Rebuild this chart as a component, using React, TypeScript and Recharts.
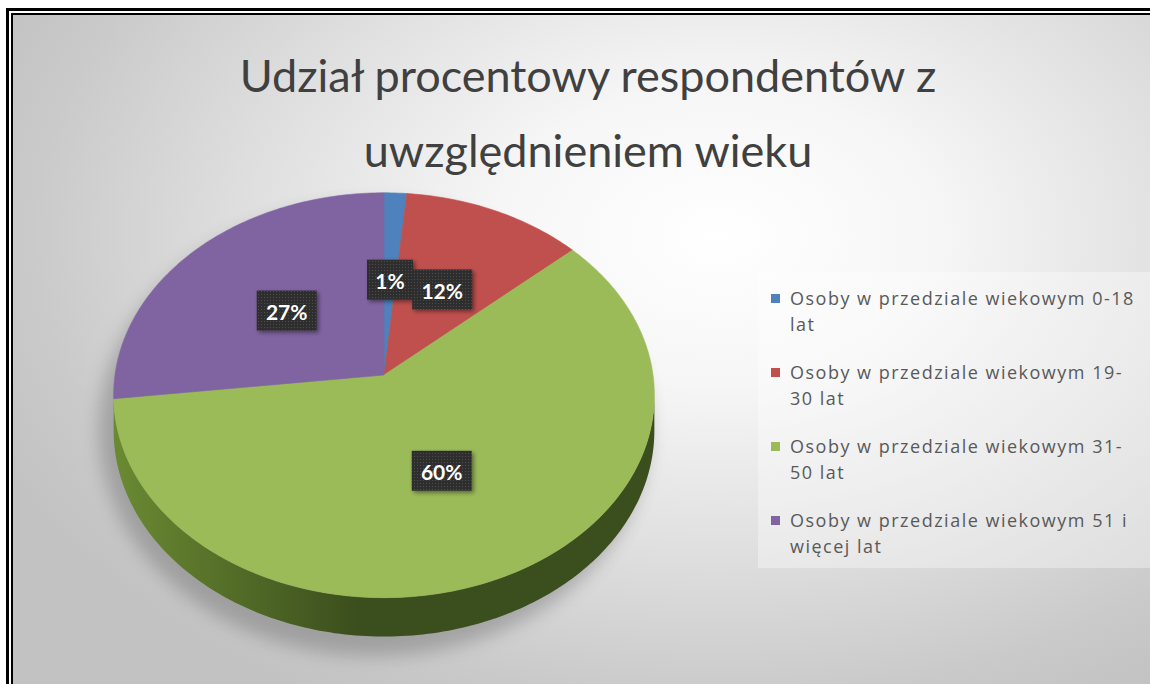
import React from 'react';
import { PieChart, Pie, Cell, Legend } from 'recharts';

const titleLines = ['Udział procentowy respondentów z', 'uwzględnieniem wieku'];

const categories = [
  'Osoby w przedziale wiekowym 0-18 lat',
  'Osoby w przedziale wiekowym 19-30 lat',
  'Osoby w przedziale wiekowym 31-50 lat',
  'Osoby w przedziale wiekowym 51 i więcej lat',
];
const shares = [1.5, 12, 60, 27];

const topColors = ['#4F81BD', '#C0504D', '#9BBB59', '#8064A2'];
const sideColors = [
  ['#3f6a9c', '#2a4870'],
  ['#a0423f', '#6c2926'],
  ['#6a8a32', '#3b4e1d'],
  ['#6a5289', '#45375e'],
];

const data = categories.map((name, i) => ({ name, value: shares[i] }));

// fake 3d: flatten + a bit of perspective, side wall drawn under the front edge
const TILT = 0.745;
const PERSP = 0.1;
const DEPTH = 35;
const VIS_LO = 180 + (Math.asin(PERSP) * 180) / Math.PI;
const VIS_HI = 360 - (Math.asin(PERSP) * 180) / Math.PI;

function project(cx: number, cy: number, r: number, deg: number, k = 1) {
  const t = (deg * Math.PI) / 180;
  const X = Math.cos(t) * k;
  const Z = -Math.sin(t) * k;
  const w = 1 - PERSP * Z;
  return { x: cx + (r * X) / w, y: cy + (r * TILT * Z) / w, w };
}

function arcPoints(cx: number, cy: number, r: number, a0: number, a1: number) {
  const n = Math.max(2, Math.ceil(Math.abs(a1 - a0)));
  const pts = [];
  for (let i = 0; i <= n; i++) pts.push(project(cx, cy, r, a0 + ((a1 - a0) * i) / n));
  return pts;
}

const Slice3D = (props: any) => {
  const { cx, cy, outerRadius, startAngle, endAngle } = props;
  const name = props.payload?.name ?? props.name;
  const idx = Math.max(0, categories.indexOf(name));
  const lo = Math.min(startAngle, endAngle);
  const hi = Math.max(startAngle, endAngle);

  const top = arcPoints(cx, cy, outerRadius, startAngle, endAngle);
  const topPath = `M${cx},${cy} ` + top.map(p => `L${p.x},${p.y}`).join(' ') + ' Z';

  const sides: string[] = [];
  for (let k = -1; k <= 1; k++) {
    const a = Math.max(lo, VIS_LO + 360 * k);
    const b = Math.min(hi, VIS_HI + 360 * k);
    if (b > a) {
      const edge = arcPoints(cx, cy, outerRadius, a, b);
      const d =
        edge.map((p, i) => `${i ? 'L' : 'M'}${p.x},${p.y}`).join(' ') +
        ' ' +
        edge
          .slice()
          .reverse()
          .map(p => `L${p.x},${p.y + DEPTH / p.w}`)
          .join(' ') +
        ' Z';
      sides.push(d);
    }
  }

  const gid = `side-grad-${idx}`;
  return (
    <g>
      <defs>
        <linearGradient id={gid} gradientUnits="userSpaceOnUse" x1={cx - outerRadius} y1={0} x2={cx + outerRadius} y2={0}>
          <stop offset="0%" stopColor={sideColors[idx][0]} />
          <stop offset="45%" stopColor={sideColors[idx][1]} />
          <stop offset="100%" stopColor={sideColors[idx][1]} />
        </linearGradient>
      </defs>
      {sides.map((d, i) => (
        <path key={i} d={d} fill={`url(#${gid})`} stroke="none" />
      ))}
      <path d={topPath} fill={topColors[idx]} stroke={topColors[idx]} strokeWidth={0.6} />
    </g>
  );
};

const renderLabel = (props: any) => {
  const { cx, cy, midAngle, outerRadius, percent } = props;
  const p = project(cx, cy, outerRadius, midAngle, 0.5);
  const text = `${Math.round(percent * 100)}%`;
  const w = 18 + text.length * 14;
  const h = 40;
  return (
    <g>
      <rect x={p.x - w / 2} y={p.y - h / 2} width={w} height={h} fill="url(#labelDots)" filter="url(#labelShadow)" />
      <text
        x={p.x}
        y={p.y + 1}
        textAnchor="middle"
        dominantBaseline="central"
        fill="#ffffff"
        fontFamily="Lato, 'Open Sans', sans-serif"
        fontWeight={700}
        fontSize={21}
      >
        {text}
      </text>
    </g>
  );
};

// split legend names into lines the way Excel wrapped them (break on spaces or after a hyphen)
function wrap(text: string, maxChars: number) {
  const tokens = text.match(/[^\s-]+-?|\s+/g) || [];
  const lines: string[] = [];
  let cur = '';
  for (const tok of tokens) {
    if ((cur + tok).trimEnd().length > maxChars && cur.trim()) {
      lines.push(cur.trim());
      cur = tok.trimStart();
    } else cur += tok;
  }
  if (cur.trim()) lines.push(cur.trim());
  return lines;
}

const renderLegend = (props: any) => {
  const payload = props.payload && props.payload.length
    ? props.payload
    : categories.map((c, i) => ({ value: c, color: topColors[i] }));
  return (
    <div
      style={{
        position: 'relative',
        width: 392,
        height: 296,
        background: 'rgba(255,255,255,0.35)',
        fontFamily: "'Open Sans', sans-serif",
        fontSize: 18,
        letterSpacing: 1.5,
        color: '#595959',
      }}
    >
      {payload.map((entry: any, i: number) => (
        <div key={i} style={{ position: 'absolute', left: 0, top: 13 + i * 74 }}>
          <div
            style={{
              position: 'absolute',
              left: 13,
              top: 9,
              width: 9,
              height: 9,
              background: entry.color,
            }}
          />
          {wrap(entry.value, 32).map((line, j) => (
            <div key={j} style={{ marginLeft: 32, height: 26, lineHeight: '26px', whiteSpace: 'nowrap' }}>
              {line}
            </div>
          ))}
        </div>
      ))}
    </div>
  );
};

export default function App() {
  return (
    <div style={{ position: 'absolute', left: 0, top: 0, width: 1150, height: 684, overflow: 'hidden', background: '#fff' }}>
      {/* double frame + grey backdrop */}
      <div style={{ position: 'absolute', left: 6, top: 8, width: 1200, height: 720, background: '#000' }} />
      <div style={{ position: 'absolute', left: 9, top: 11, width: 1200, height: 720, background: '#fff' }} />
      <div style={{ position: 'absolute', left: 11, top: 13, width: 1200, height: 720, background: '#000' }} />
      <div
        style={{
          position: 'absolute',
          left: 13,
          top: 15,
          width: 1137,
          height: 669,
          background:
            'radial-gradient(ellipse 70% 80% at 62% 33%, #ffffff 0%, #f6f6f6 28%, #e0e0e0 58%, #cacaca 86%, #c2c2c2 100%)',
        }}
      />
      <svg width={1150} height={684} style={{ position: 'absolute', left: 0, top: 0 }}>
        <defs>
          <pattern id="labelDots" width={3} height={3} patternUnits="userSpaceOnUse">
            <rect width={3} height={3} fill="#2f2f2f" />
            <rect width={1} height={1} fill="#4d4d4d" />
          </pattern>
          <filter id="labelShadow" x="-30%" y="-30%" width="160%" height="160%">
            <feDropShadow dx={2} dy={2} stdDeviation={2} floodColor="#000" floodOpacity={0.45} />
          </filter>
          <filter id="pieShadow" x="-20%" y="-20%" width="140%" height="140%">
            <feGaussianBlur stdDeviation={9} />
          </filter>
        </defs>
        <ellipse cx={374} cy={430} rx={275} ry={226} fill="#6e6e6e" opacity={0.45} filter="url(#pieShadow)" />
        {titleLines.map((t, i) => (
          <text
            key={i}
            x={588}
            y={92 + i * 75}
            textAnchor="middle"
            fontFamily="Lato, 'Open Sans', sans-serif"
            fontSize={45}
            fill="#404040"
          >
            {t}
          </text>
        ))}
      </svg>
      <div style={{ position: 'absolute', left: 0, top: 0 }}>
        <PieChart width={1150} height={684} margin={{ top: 0, right: 0, bottom: 0, left: 0 }}>
          <Pie
            data={data}
            dataKey="value"
            nameKey="name"
            cx={384}
            cy={375}
            outerRadius={269}
            startAngle={90}
            endAngle={-270}
            stroke="none"
            isAnimationActive={false}
            shape={Slice3D}
            activeShape={Slice3D}
            inactiveShape={Slice3D}
            label={renderLabel}
            labelLine={false}
          >
            {data.map((d, i) => (
              <Cell key={d.name} fill={topColors[i]} />
            ))}
          </Pie>
          <Legend
            layout="vertical"
            verticalAlign="top"
            align="right"
            content={renderLegend}
            wrapperStyle={{ left: 758, top: 272, right: 'auto', bottom: 'auto', width: 392, height: 296 }}
          />
        </PieChart>
      </div>
    </div>
  );
}
